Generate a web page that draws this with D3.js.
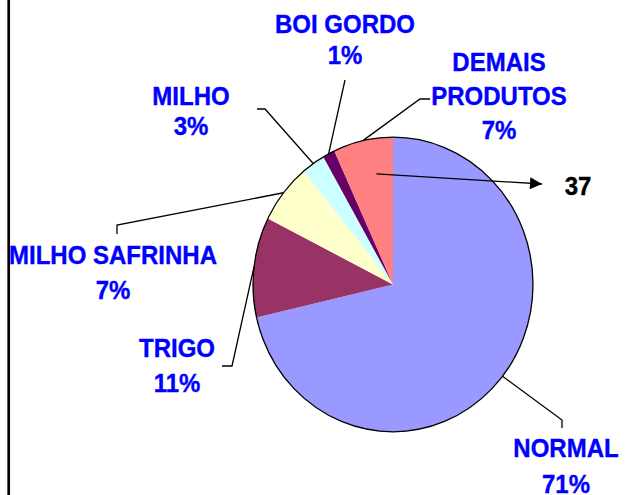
<!DOCTYPE html>
<html lang="pt">
<head>
<meta charset="utf-8">
<title>Pie</title>
<script src="https://d3js.org/d3.v7.min.js"></script>
<style>
  body { margin: 0; background: #fff; }
  .lbl { font-family: "Liberation Sans", Arial, sans-serif; font-weight: bold; fill: #0000ff; stroke: #0000ff; stroke-width: 0.35px; font-size: 24px; }
  .leader { fill: none; stroke: #000; stroke-width: 1.3px; }
</style>
</head>
<body>
<div id="chart"></div>
<script>
var categories = ["NORMAL", "TRIGO", "MILHO SAFRINHA", "MILHO", "BOI GORDO", "DEMAIS PRODUTOS"];
var values = [71.4, 11.0, 6.6, 2.7, 1.4, 6.9];
var colors = ["#9999ff", "#993366", "#ffffcc", "#ccffff", "#660066", "#ff8080"];
var calloutValue = 37;

// label layout: text lines (name split), center x, first baseline, line gap, leader bend + end
var labelLayout = [
  { lines: ["NORMAL"], x: 566, y: 457, gap: 36, path: [[562, 420], [562, 428]] },
  { lines: ["TRIGO"], x: 177, y: 357, gap: 35, path: [[232, 366], [222, 366]] },
  { lines: ["MILHO SAFRINHA"], x: 113, y: 264, gap: 35, path: [[117, 225], [117, 234]] },
  { lines: ["MILHO"], x: 191, y: 105, gap: 30, path: [[265, 109], [257, 109]] },
  { lines: ["BOI GORDO"], x: 345, y: 33, gap: 31, path: [[345, 80]] },
  { lines: ["DEMAIS", "PRODUTOS"], x: 499, y: 71, gap: 34, path: [[420, 99], [430, 99]] }
];

var width = 626, height = 495;
var cx = 393, cy = 284.5, rx = 140, ry = 147.3;

var svg = d3.select("#chart").append("svg")
  .attr("width", width).attr("height", height);

// left border line
svg.append("line")
  .attr("x1", 8.7).attr("x2", 8.7).attr("y1", 0).attr("y2", height)
  .attr("stroke", "#000").attr("stroke-width", 2.7);

var pie = d3.pie().sort(null).value(function(d) { return d; });
var arcs = pie(values);
var arc = d3.arc().innerRadius(0).outerRadius(rx);

var g = svg.append("g")
  .attr("transform", "translate(" + cx + "," + cy + ") scale(1," + (ry / rx) + ")");

g.selectAll("path")
  .data(arcs)
  .enter().append("path")
  .attr("d", arc)
  .attr("fill", function(d, i) { return colors[i]; });

svg.append("ellipse")
  .attr("cx", cx).attr("cy", cy).attr("rx", rx).attr("ry", ry)
  .attr("fill", "none").attr("stroke", "#000").attr("stroke-width", 1.3);

function edgePoint(a, f) {
  return [cx + rx * f * Math.sin(a), cy - ry * f * Math.cos(a)];
}

var fmt = function(v) { return Math.round(v) + "%"; };

arcs.forEach(function(d, i) {
  var L = labelLayout[i];
  var mid = (d.startAngle + d.endAngle) / 2;
  var pts = [edgePoint(mid, 1)].concat(L.path);
  svg.append("path").attr("class", "leader")
    .attr("d", d3.line()(pts));

  var lines = L.lines.concat([fmt(values[i])]);
  lines.forEach(function(t, k) {
    svg.append("text").attr("class", "lbl")
      .attr("transform", "translate(" + L.x + "," + (L.y + k * L.gap) + ") scale(1,1.08)")
      .attr("text-anchor", "middle")
      .text(t);
  });
});

// callout arrow from DEMAIS slice
var last = arcs[arcs.length - 1];
var start = edgePoint((last.startAngle + last.endAngle) / 2 + 0.06, 0.76);
var tip = [542, 184];
svg.append("defs").append("marker")
  .attr("id", "arr").attr("viewBox", "0 0 10 10")
  .attr("refX", 10).attr("refY", 5)
  .attr("markerWidth", 13).attr("markerHeight", 12)
  .attr("markerUnits", "userSpaceOnUse")
  .attr("orient", "auto")
  .append("path").attr("d", "M0,0L10,5L0,10Z").attr("fill", "#000");
svg.append("line")
  .attr("x1", start[0]).attr("y1", start[1])
  .attr("x2", tip[0]).attr("y2", tip[1])
  .attr("stroke", "#000").attr("stroke-width", 1.3)
  .attr("marker-end", "url(#arr)");
svg.append("text")
  .attr("transform", "translate(578,195) scale(1,1.08)")
  .attr("text-anchor", "middle")
  .style("font-family", "'Liberation Sans', Arial, sans-serif")
  .style("font-weight", "bold").style("font-size", "24px")
  .style("stroke", "#000").style("stroke-width", "0.35px")
  .text(calloutValue);
</script>
</body>
</html>
